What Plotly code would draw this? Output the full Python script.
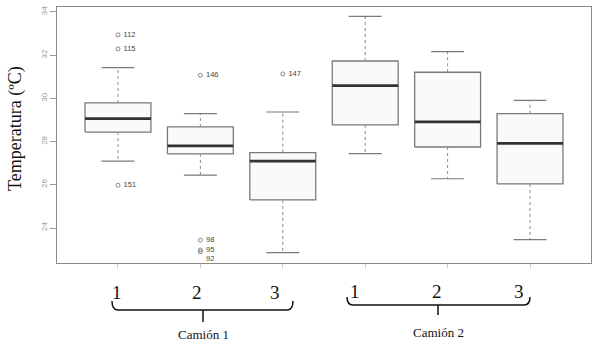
import plotly.graph_objects as go

# ---- data ----
groups = ["1", "2", "3", "1", "2", "3"]
trucks = ["Camión 1", "Camión 2"]
lower_whisker = [27.10, 26.45, 22.86, 27.44, 26.28, 23.46]
q1 = [28.44, 27.43, 25.30, 28.77, 27.75, 26.04]
median = [29.06, 27.80, 27.10, 30.59, 28.91, 27.92]
q3 = [29.79, 28.68, 27.49, 31.73, 31.21, 29.29]
upper_whisker = [31.42, 29.29, 29.37, 33.80, 32.16, 29.91]
outlier_box = [1, 1, 1, 2, 2, 2, 2, 3]
outlier_val = [32.94, 32.29, 25.98, 31.07, 23.44, 22.98, 22.90, 31.13]
outlier_id = ["112", "115", "151", "146", "98", "95", "92", "147"]
y_ticks = [24, 26, 28, 30, 32, 34]

W, H = 599, 350
ML, MR, MT, MB = 57, 8, 7, 87
PW, PH = W - ML - MR, H - MT - MB

def px(x):  # pixel -> paper x
    return (x - ML) / PW

def py(y):  # pixel -> paper y
    return (H - MB - y) / PH

fig = go.Figure()
hw = 0.4
cw = 0.2
n = len(median)
xs = list(range(1, n + 1))

# boxes
bx, by = [], []
for i in range(n):
    x = xs[i]
    bx += [x - hw, x + hw, x + hw, x - hw, x - hw, None]
    by += [q1[i], q1[i], q3[i], q3[i], q1[i], None]
fig.add_trace(go.Scatter(x=bx, y=by, mode="lines", fill="toself",
                         fillcolor="#fafafa", line=dict(color="#7a7a7a", width=1.3),
                         hoverinfo="skip", showlegend=False))
# whiskers (dashed)
wx, wy = [], []
for i in range(n):
    x = xs[i]
    wx += [x, x, None, x, x, None]
    wy += [q3[i], upper_whisker[i], None, q1[i], lower_whisker[i], None]
fig.add_trace(go.Scatter(x=wx, y=wy, mode="lines",
                         line=dict(color="#8a8a8a", width=1, dash="dot"),
                         hoverinfo="skip", showlegend=False))
# caps
cx, cy = [], []
for i in range(n):
    x = xs[i]
    cx += [x - cw, x + cw, None, x - cw, x + cw, None]
    cy += [upper_whisker[i], upper_whisker[i], None, lower_whisker[i], lower_whisker[i], None]
fig.add_trace(go.Scatter(x=cx, y=cy, mode="lines",
                         line=dict(color="#7a7a7a", width=1.2),
                         hoverinfo="skip", showlegend=False))
# medians
mx, my = [], []
for i in range(n):
    x = xs[i]
    mx += [x - hw, x + hw, None]
    my += [median[i], median[i], None]
fig.add_trace(go.Scatter(x=mx, y=my, mode="lines",
                         line=dict(color="#333333", width=2.8),
                         hoverinfo="skip", showlegend=False))
# outliers
positions = ["middle right"] * len(outlier_id)
positions[outlier_id.index("92")] = "bottom right"
fig.add_trace(go.Scatter(x=outlier_box, y=outlier_val, mode="markers+text",
                         text=[" " + t for t in outlier_id], textposition=positions,
                         textfont=dict(family="Liberation Sans, Arial", size=7.5, color="#444444"),
                         marker=dict(symbol="circle-open", size=4,
                                     line=dict(color="#888888", width=1), color="#888888"),
                         hoverinfo="skip", showlegend=False))

# group number labels below the axis
label_px = [117, 197, 275, 355, 437, 519]
label_py = [292, 292, 292, 291, 291, 291]
for t, lx, ly in zip(groups, label_px, label_py):
    fig.add_annotation(x=px(lx), y=py(ly), xref="paper", yref="paper", text=t,
                       showarrow=False, xanchor="center", yanchor="middle",
                       font=dict(family="Liberation Serif, Times New Roman", size=19, color="#111"))

# brackets
brackets = [(112, 293, 301, 310, 203, 322, 334), (347, 530, 297, 305, 438, 315, 332)]
for (x0, x1, ytop, ybot, xc, ytip, ylab), name in zip(brackets, trucks):
    r = 6
    path = (f"M {px(x0)},{py(ytop)} Q {px(x0)},{py(ybot)} {px(x0 + r)},{py(ybot)} "
            f"L {px(x1 - r)},{py(ybot)} Q {px(x1)},{py(ybot)} {px(x1)},{py(ytop)} "
            f"M {px(xc)},{py(ybot)} L {px(xc)},{py(ytip)}")
    fig.add_shape(type="path", path=path, xref="paper", yref="paper",
                  line=dict(color="#111", width=1.5))
    fig.add_annotation(x=px(xc), y=py(ylab), xref="paper", yref="paper", text=name,
                       showarrow=False, xanchor="center", yanchor="middle",
                       font=dict(family="Liberation Serif, Times New Roman", size=13, color="#111"))

# y title
fig.add_annotation(x=px(15), y=py(129), xref="paper", yref="paper",
                   text="Temperatura (ºC)", textangle=-90, showarrow=False,
                   xanchor="center", yanchor="middle",
                   font=dict(family="Liberation Serif, Times New Roman", size=18, color="#111"))

fig.update_layout(
    width=W, height=H,
    margin=dict(l=ML, r=MR, t=MT, b=MB),
    paper_bgcolor="white", plot_bgcolor="white",
    showlegend=False,
    xaxis=dict(range=[0.26, 6.74], tickvals=xs, ticktext=[""] * n,
               ticks="outside", ticklen=4, tickcolor="#cccccc",
               showgrid=False, zeroline=False, showline=True, mirror=True,
               linecolor="#8a8a8a", linewidth=1.2),
    yaxis=dict(range=[22.38, 34.23], tickvals=y_ticks, ticktext=[str(v) for v in y_ticks],
               tickangle=-90, ticks="outside", ticklen=6, tickcolor="#9a9a9a",
               tickfont=dict(family="Liberation Sans, Arial", size=8, color="#999999"),
               showgrid=False, zeroline=False, showline=True, mirror=True,
               linecolor="#8a8a8a", linewidth=1.2),
)

fig.write_html("out.html")
